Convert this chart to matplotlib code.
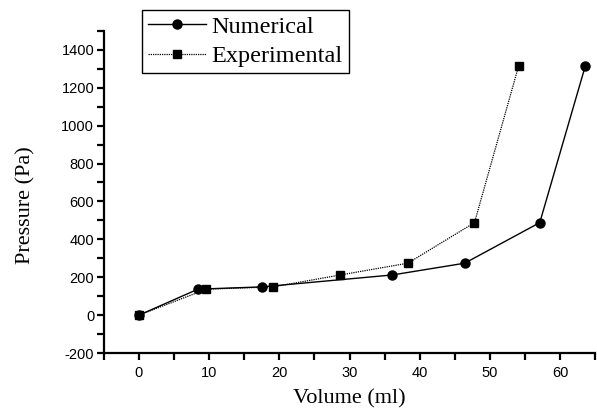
import matplotlib.pyplot as plt
from matplotlib import font_manager
from matplotlib.ticker import MultipleLocator

num_volume = [0, 8.4, 17.5, 36.1, 46.4, 57.1, 63.6]
num_pressure = [0, 137, 149, 212, 274, 488, 1316]
exp_volume = [0, 9.6, 19.1, 28.7, 38.3, 47.8, 54.1]
exp_pressure = [0, 137, 149, 212, 274, 488, 1316]

plt.rcParams["font.family"] = ["Liberation Serif", "DejaVu Serif"]
plt.rcParams["axes.unicode_minus"] = False

# narrow sans for tick numbers if the system has it
tick_font = "Liberation Sans"
try:
    font_manager.findfont("Liberation Sans Narrow", fallback_to_default=False)
    tick_font = "Liberation Sans Narrow"
except ValueError:
    pass

fig = plt.figure(figsize=(5.97, 4.11), dpi=100)
ax = fig.add_axes([0.174, 0.141, 0.823, 0.784])

ax.plot(num_volume, num_pressure, color="black", lw=1.0, marker="o", ms=6.5,
        label="Numerical")
ax.plot(exp_volume, exp_pressure, color="black", lw=0.9, ls=(0, (1, 0.8)),
        marker="s", ms=6, label="Experimental")

ax.set_xlim(-5, 65)
ax.set_ylim(-200, 1500)
ax.xaxis.set_major_locator(MultipleLocator(10))
ax.xaxis.set_minor_locator(MultipleLocator(5))
ax.yaxis.set_major_locator(MultipleLocator(200))
ax.yaxis.set_minor_locator(MultipleLocator(100))

for s in ["top", "right"]:
    ax.spines[s].set_visible(False)
for s in ["left", "bottom"]:
    ax.spines[s].set_linewidth(1.6)

ax.tick_params(which="major", direction="out", length=5, width=1.6,
               labelsize=10.5, labelfontfamily=tick_font)
ax.tick_params(axis="x", which="major", pad=4)
ax.tick_params(axis="y", which="major", pad=2)
ax.tick_params(which="minor", direction="out", length=5, width=1.6)

ax.set_xlabel("Volume (ml)", fontsize=16, labelpad=7)
ax.set_ylabel("Pressure (Pa)", fontsize=16)
ax.yaxis.set_label_coords(-0.14, 0.46)

leg = fig.legend(loc="upper left", bbox_to_anchor=(0.238, 0.976),
                 bbox_transform=fig.transFigure, borderaxespad=0,
                 fontsize=17.5, handlelength=2.4, handletextpad=0.2,
                 fancybox=False, edgecolor="black", framealpha=1,
                 labelspacing=0.3, borderpad=0.25)
leg.get_frame().set_linewidth(1.0)

fig.savefig("out.png", dpi=100)
